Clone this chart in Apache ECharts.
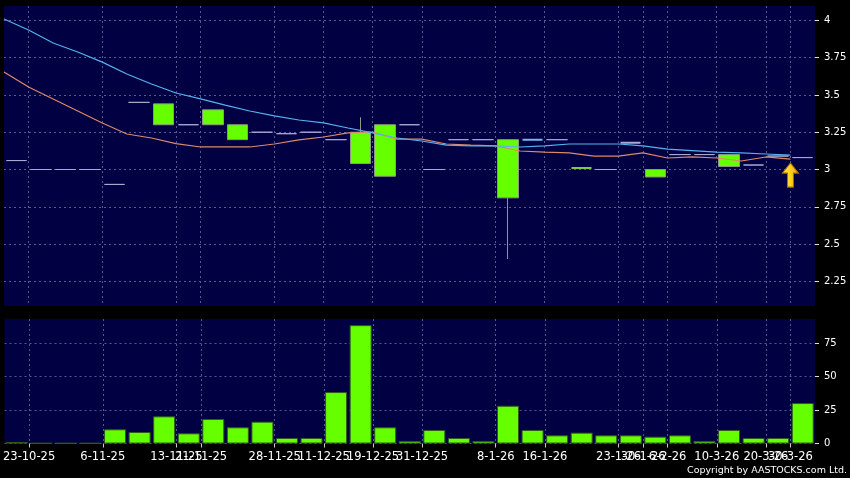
<!DOCTYPE html>
<html><head><meta charset="utf-8">
<script src="https://cdn.jsdelivr.net/npm/echarts@6/dist/echarts.min.js"></script>
<style>html,body{margin:0;padding:0;background:#000;}#c{width:850px;height:478px;}</style>
</head><body><div id="c"></div>
<script>
// Date labels, placed on the boundary at the left edge of each candle (34 boundaries for 33 candles)
const tickLabels = ['', '23-10-25', '', '', '6-11-25', '', '', '13-11-25', '21-11-25', '', '', '28-11-25', '', '11-12-25', '', '19-12-25', '', '31-12-25', '', '', '8-1-26', '', '16-1-26', '', '', '23-1-26', '30-1-26', '6-2-26', '', '10-3-26', '', '20-3-26', '30-3-26', ''];

const openP  = [3.06, 3.00, 3.00, 3.00, 2.90, 3.45, 3.30, 3.30, 3.30, 3.20, 3.25, 3.24, 3.25, 3.20, 3.04, 2.955, 3.30, 3.00, 3.20, 3.20, 2.81, 3.20, 3.20, 3.01, 3.00, 3.18, 2.95, 3.10, 3.10, 3.02, 3.03, 3.09, 3.08];
const closeP = [3.06, 3.00, 3.00, 3.00, 2.90, 3.45, 3.44, 3.30, 3.40, 3.30, 3.25, 3.24, 3.25, 3.20, 3.25, 3.30, 3.30, 3.00, 3.20, 3.20, 3.20, 3.20, 3.20, 3.01, 3.00, 3.18, 3.00, 3.10, 3.10, 3.10, 3.03, 3.09, 3.08];
const lowP   = [3.06, 3.00, 3.00, 3.00, 2.90, 3.45, 3.30, 3.30, 3.30, 3.20, 3.25, 3.24, 3.25, 3.20, 3.04, 2.955, 3.30, 3.00, 3.20, 3.20, 2.40, 3.20, 3.20, 3.01, 3.00, 3.18, 2.95, 3.10, 3.10, 3.02, 3.03, 3.09, 3.08];
const highP  = [3.06, 3.00, 3.00, 3.00, 2.90, 3.45, 3.44, 3.30, 3.40, 3.30, 3.25, 3.24, 3.25, 3.20, 3.35, 3.30, 3.30, 3.00, 3.20, 3.20, 3.20, 3.20, 3.20, 3.01, 3.00, 3.18, 3.00, 3.10, 3.10, 3.10, 3.03, 3.09, 3.08];

const volume = [1, 0.3, 0.3, 0.3, 10.6, 8.6, 20.3, 7.6, 18.3, 12.1, 16.3, 4.1, 4.1, 38.4, 88.4, 12.1, 1.9, 10.1, 4.1, 1.9, 28.2, 10.1, 6.1, 8.1, 6.1, 6.1, 5.1, 6.1, 1.9, 10.1, 4.1, 4.1, 30.2];

const maBlue   = [4.009, 3.935, 3.848, 3.788, 3.720, 3.640, 3.573, 3.513, 3.473, 3.432, 3.392, 3.359, 3.332, 3.312, 3.278, 3.245, 3.211, 3.191, 3.164, 3.158, 3.158, 3.151, 3.158, 3.171, 3.171, 3.171, 3.158, 3.137, 3.127, 3.117, 3.111, 3.104, 3.097];
const maOrange = [3.653, 3.553, 3.473, 3.392, 3.312, 3.238, 3.211, 3.174, 3.151, 3.151, 3.151, 3.171, 3.198, 3.218, 3.245, 3.251, 3.204, 3.204, 3.171, 3.164, 3.158, 3.124, 3.117, 3.111, 3.090, 3.090, 3.111, 3.077, 3.084, 3.077, 3.057, 3.084, 3.070];

const priceTicks = [2.25, 2.5, 2.75, 3, 3.25, 3.5, 3.75, 4];
const volumeTicks = [0, 25, 50, 75];
const arrowMark = { index: 32, price: 2.963 };

// ---- styling / building ----
const FONT = 'DejaVu Sans';
const PLOT_BG = '#000042';
const GRID_LINE = { color: '#56569a', type: [2, 3], width: 1 };
const GREEN = '#66ff00';
const DOJI = '#aaaad0';
const flatOverrides = {
  21: { borderColor: '#78b8ec', borderColor0: '#78b8ec', borderWidth: 2 },
  23: { borderColor: '#7ccc40', borderColor0: '#7ccc40', borderWidth: 2 },
  25: { borderColor: DOJI, borderColor0: DOJI, borderWidth: 2 }
};

const candleCats = openP.map((_, i) => 'c' + i);
const boundaryCats = tickLabels.map((_, i) => 'b' + i);
const hasLabel = (i) => tickLabels[i] !== '';

const candleData = openP.map((o, i) => {
  const item = { value: [o, closeP[i], lowP[i], highP[i]] };
  if (o === closeP[i]) {
    item.itemStyle = flatOverrides[i] || { borderColor: DOJI, borderColor0: DOJI, borderWidth: 1 };
  }
  return item;
});

const chart = echarts.init(document.getElementById('c'), null, { renderer: 'canvas' });
chart.setOption({
  animation: false,
  backgroundColor: '#000',
  grid: [
    { left: 4, right: 35, top: 6, height: 300, show: true, backgroundColor: PLOT_BG, borderWidth: 0 },
    { left: 4, right: 35, top: 319, height: 124.5, show: true, backgroundColor: PLOT_BG, borderWidth: 0 }
  ],
  xAxis: [
    { type: 'category', gridIndex: 0, data: candleCats, position: 'top', boundaryGap: true, show: false },
    { type: 'category', gridIndex: 0, data: boundaryCats, position: 'bottom', boundaryGap: false,
      axisLine: { show: false }, axisTick: { show: false }, axisLabel: { show: false },
      splitLine: { show: true, interval: hasLabel, lineStyle: GRID_LINE } },
    { type: 'category', gridIndex: 1, data: candleCats, position: 'top', boundaryGap: true, show: false },
    { type: 'category', gridIndex: 1, data: boundaryCats, position: 'bottom', boundaryGap: false,
      axisLine: { show: false },
      axisTick: { show: true, interval: hasLabel, length: 4, lineStyle: { color: '#cccccc' } },
      axisLabel: { show: true, interval: 0, formatter: (v, i) => tickLabels[i], color: '#ffffff',
        fontSize: 11.5, fontFamily: FONT, margin: 8, hideOverlap: false },
      splitLine: { show: true, interval: hasLabel, lineStyle: GRID_LINE } }
  ],
  yAxis: [
    { type: 'value', gridIndex: 0, position: 'right', min: 2.085, max: 4.096, scale: true,
      axisLine: { show: false },
      axisTick: { show: true, length: 4, customValues: priceTicks, lineStyle: { color: '#dddddd' } },
      axisLabel: { customValues: priceTicks, color: '#ffffff', fontSize: 10, fontFamily: FONT, margin: 9,
        formatter: (v) => String(v) },
      splitLine: { show: true, lineStyle: GRID_LINE } },
    { type: 'value', gridIndex: 1, position: 'right', min: 0, max: 93,
      axisLine: { show: false },
      axisTick: { show: true, length: 4, customValues: volumeTicks, lineStyle: { color: '#dddddd' } },
      axisLabel: { customValues: volumeTicks, color: '#ffffff', fontSize: 10, fontFamily: FONT, margin: 9,
        formatter: (v) => String(v) },
      splitLine: { show: true, lineStyle: GRID_LINE } }
  ],
  series: [
    { type: 'candlestick', xAxisIndex: 0, yAxisIndex: 0, data: candleData, barWidth: 21,
      itemStyle: { color: GREEN, color0: GREEN, borderColor: '#8a9a86', borderColor0: '#8a9a86', borderWidth: 1 } },
    { type: 'line', xAxisIndex: 1, yAxisIndex: 0, data: maOrange, symbol: 'none', smooth: false,
      lineStyle: { color: '#dc8a6a', width: 1.2 }, z: 3 },
    { type: 'line', xAxisIndex: 1, yAxisIndex: 0, data: maBlue, symbol: 'none', smooth: false,
      lineStyle: { color: '#55b2ee', width: 1.2 }, z: 4,
      markPoint: {
        silent: true,
        symbol: 'path://M8,0 L16,10 L11,10 L11,24 L5,24 L5,10 L0,10 Z',
        symbolSize: [16, 24],
        label: { show: false },
        itemStyle: {
          color: new echarts.graphic.LinearGradient(0, 0, 1, 0, [
            { offset: 0, color: '#ffe860' }, { offset: 0.5, color: '#ffd21a' }, { offset: 1, color: '#e0a000' }
          ]),
          borderColor: '#a87000', borderWidth: 1
        },
        data: [{ coord: [arrowMark.index, arrowMark.price] }]
      } },
    { type: 'bar', xAxisIndex: 2, yAxisIndex: 1, data: volume, barWidth: 22,
      itemStyle: { color: GREEN, borderColor: '#2f5a1a', borderWidth: 1 } }
  ],
  graphic: [
    { type: 'text', right: 3, top: 466,
      style: { text: 'Copyright by AASTOCKS.com Ltd.', fill: '#ffffff', font: '9.5px "DejaVu Sans"' } }
  ]
});
</script>
</body></html>
